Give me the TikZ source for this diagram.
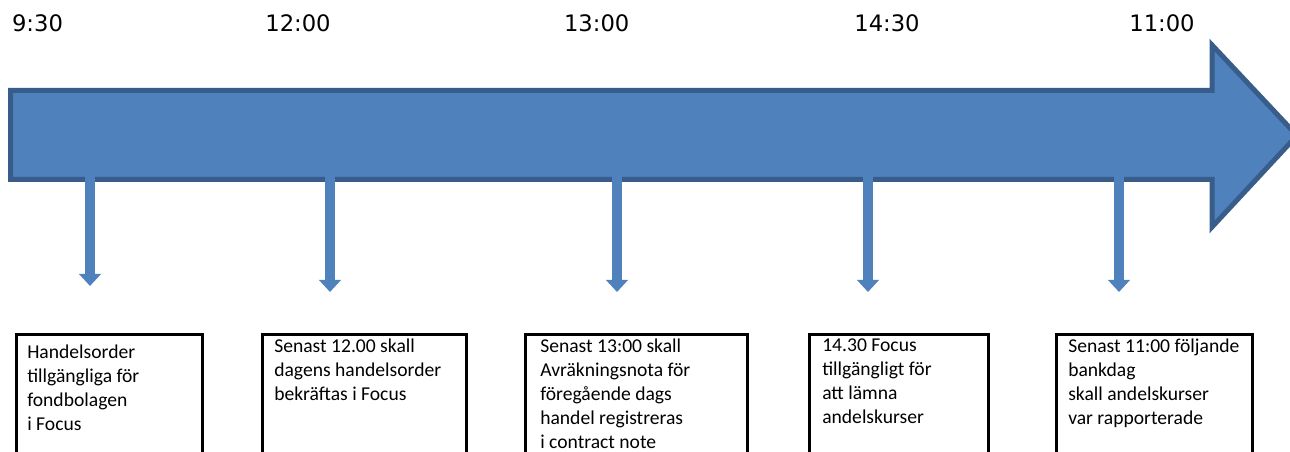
\documentclass[tikz,border=0pt]{standalone}
\usepackage{fontspec}
\setmainfont{Carlito}
\newfontfamily\timefont{DejaVu Sans}
\usetikzlibrary{arrows.meta}
\definecolor{flowblue}{HTML}{4F81BD}
\definecolor{flowedge}{HTML}{385D8A}

\begin{document}
\begin{tikzpicture}[x=0.75pt, y=-0.75pt,
			flow/.style={
				fill=flowblue,
				draw=flowedge,
				line width=3.75pt,
				line join=miter},
			time/.style={
				font=\timefont\fontsize{17}{20}\selectfont,
				inner sep=0pt,
				anchor=base},
			drop/.style={
				draw=flowblue,
				line width=7.5pt,
				-{Triangle[width=16pt, length=9pt]}},
			stepbox/.style={
				rectangle,
				draw=black,
				line width=2.25pt,
				anchor=north west,
				minimum height=120pt},
			note/.style={
				font=\fontsize{14.7}{18}\selectfont,
				align=left,
				inner sep=0pt,
				anchor=north west}]
			\useasboundingbox (0, 0) rectangle (1290, 452);
			% the time line
			\draw[flow] (10.5, 90.5) -- (1212, 90.5) -- (1212, 45) -- (1297, 135.5)
				-- (1212, 227) -- (1212, 179.5) -- (10.5, 179.5) -- cycle;
			\foreach \x/\t [count=\i] in {37.5/9:30, 298/12:00, 596.7/13:00, 887/14:30, 1162/11:00}
				\node[time] (t\i) at (\x, 32) {\t};
			\foreach \x/\y [count=\i] in {90/286, 330/292, 617/292, 868/292, 1119/292}
			{
				\coordinate (from\i) at (\x, 176);
				\coordinate (to\i) at (\x, \y);
				\draw[drop] (from\i) -- (to\i);
			}
			% boxes
			\node[stepbox, minimum width=139.5pt] (b1) at (14.5, 333.5) {};
			\node[stepbox, minimum width=153pt] (b2) at (260.5, 333.5) {};
			\node[stepbox, minimum width=166.5pt] (b3) at (523.5, 333.5) {};
			\node[stepbox, minimum width=134.25pt] (b4) at (807.5, 333.5) {};
			\node[stepbox, minimum width=147pt] (b5) at (1054.5, 333.5) {};
			\node[note] (n1) at (27, 345) {Handelsorder\\tillgängliga för\\fondbolagen\\i Focus};
			\node[note] (n2) at (274, 339) {Senast 12.00 skall\\dagens handelsorder\\bekräftas i Focus};
			\node[note] (n3) at (540, 339) {Senast 13:00 skall\\Avräkningsnota för\\föregående dags\\handel registreras\\i contract note};
			\node[note] (n4) at (822, 339) {14.30 Focus\\tillgängligt för\\att lämna\\andelskurser};
			\node[note] (n5) at (1068, 339) {Senast 11:00 följande\\bankdag\\skall andelskurser\\var rapporterade};
			\end{tikzpicture}
\end{document}
